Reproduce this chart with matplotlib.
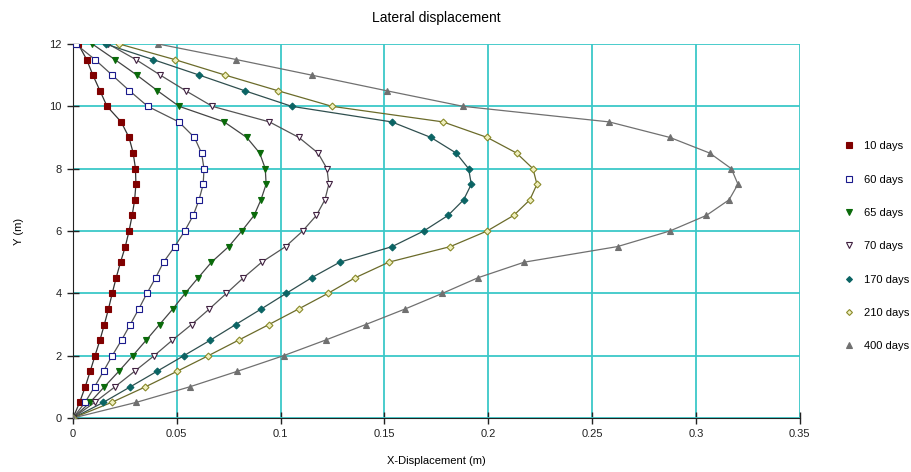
import matplotlib.pyplot as plt
import numpy as np
from matplotlib.lines import Line2D

plt.rcParams['font.family'] = ['Liberation Sans', 'DejaVu Sans']

# data: depth points (m) and lateral displacement (m) for each time
y = [0, 0.5, 1, 1.5, 2, 2.5, 3, 3.5, 4, 4.5, 5, 5.5, 6, 6.5, 7, 7.5, 8, 8.5, 9, 9.5, 10, 10.5, 11, 11.5, 12]

d10 = [0, 0.0032, 0.0059, 0.0083, 0.0106, 0.013, 0.0151, 0.0171, 0.0189, 0.0208, 0.0229, 0.0252, 0.027,
       0.0285, 0.0297, 0.0303, 0.0301, 0.029, 0.027, 0.0232, 0.0164, 0.013, 0.0096, 0.0066, 0.0025]
d60 = [0, 0.0058, 0.0104, 0.0147, 0.0189, 0.0234, 0.0276, 0.0317, 0.0356, 0.0398, 0.0436, 0.049, 0.0538,
       0.0579, 0.0607, 0.0627, 0.0631, 0.0619, 0.0585, 0.051, 0.036, 0.0272, 0.0189, 0.0106, 0.0013]
d65 = [0, 0.0082, 0.0151, 0.0221, 0.0288, 0.0353, 0.0417, 0.0481, 0.054, 0.0603, 0.0667, 0.075, 0.0813,
       0.0872, 0.0905, 0.093, 0.0926, 0.0899, 0.0837, 0.0728, 0.0511, 0.0407, 0.0308, 0.0202, 0.0093]
d70 = [0, 0.0104, 0.0202, 0.0297, 0.0391, 0.0479, 0.0571, 0.0657, 0.0739, 0.0821, 0.0909, 0.1024, 0.1106,
       0.1172, 0.1213, 0.1232, 0.1223, 0.118, 0.1088, 0.0946, 0.0671, 0.0543, 0.0421, 0.0303, 0.017]
d170 = [0, 0.0146, 0.0276, 0.0405, 0.0534, 0.0662, 0.0784, 0.0907, 0.1027, 0.1149, 0.1285, 0.1537, 0.1689,
        0.1806, 0.1881, 0.1918, 0.1905, 0.1845, 0.1724, 0.1535, 0.1053, 0.0827, 0.0609, 0.0386, 0.0157]
d210 = [0, 0.0186, 0.0349, 0.0502, 0.0652, 0.0798, 0.0944, 0.1087, 0.1228, 0.1359, 0.1521, 0.1817, 0.1994,
        0.2122, 0.22, 0.2234, 0.2215, 0.2136, 0.1995, 0.1782, 0.1247, 0.0987, 0.0734, 0.049, 0.0223]
d400 = [0, 0.0304, 0.0562, 0.0792, 0.1014, 0.1216, 0.141, 0.16, 0.1779, 0.195, 0.2173, 0.2622, 0.2874,
        0.305, 0.3159, 0.3202, 0.317, 0.3066, 0.2875, 0.2582, 0.1878, 0.151, 0.115, 0.0787, 0.041]

labels = ['10 days', '60 days', '65 days', '70 days', '170 days', '210 days', '400 days']
xticks = [0, 0.05, 0.1, 0.15, 0.2, 0.25, 0.3, 0.35]
xticklabels = ['0', '0.05', '0.1', '0.15', '0.2', '0.25', '0.3', '0.35']
yticks = [0, 2, 4, 6, 8, 10, 12]

# styles: marker, face, edge, line color
styles = [
    ('s', '#800000', '#800000', '#333333'),
    ('s', '#ffffff', '#1a1a8c', '#555555'),
    ('v', '#0a6a0a', '#0a6a0a', '#444444'),
    ('v', '#ffffff', '#402040', '#555555'),
    ('D', '#0b6464', '#0b6464', '#2f4f4f'),
    ('D', '#f0f0c0', '#8a8a2a', '#6b6b2a'),
    ('^', '#707070', '#707070', '#707070'),
]
sizes = [4.5, 4.5, 5, 5, 3.5, 3.5, 5]

fig = plt.figure(figsize=(9.11, 4.72), dpi=100)
ax = fig.add_axes([0.0801, 0.1144, 0.7979, 0.7924])

series = [d10, d60, d65, d70, d170, d210, d400]
handles = []
for d, lab, st, ms in zip(series, labels, styles, sizes):
    m, fc, ec, lc = st
    ax.plot(d, y, '-', color=lc, lw=0.9, zorder=3)
    ax.plot(d, y, linestyle='none', marker=m, markerfacecolor=fc, markeredgecolor=ec,
            markersize=ms, markeredgewidth=0.8, zorder=4)
    handles.append(Line2D([], [], linestyle='none', marker=m, markerfacecolor=fc,
                          markeredgecolor=ec, markersize=ms - 0.5, markeredgewidth=0.8, label=lab))

ax.set_xlim(0, 0.35)
ax.set_ylim(0, 12)
ax.set_xticks(xticks)
ax.set_xticklabels(xticklabels)
ax.set_yticks(yticks)
ax.grid(color='#3cc8c8', lw=1.3, zorder=1)
ax.spines['top'].set_visible(False)
ax.spines['right'].set_visible(False)
ax.spines['left'].set_color('#222222')
ax.spines['bottom'].set_color('#222222')
ax.tick_params(direction='inout', length=9, width=1, labelsize=8, colors='#222222')
ax.set_xlabel('X-Displacement (m)', fontsize=8, labelpad=12)
ax.set_ylabel('Y (m)', fontsize=8, labelpad=18)
ax.set_title('Lateral displacement', fontsize=10, pad=16)

fig.legend(handles=handles, loc='upper left', bbox_to_anchor=(0.915, 0.722), frameon=False,
           fontsize=8, labelspacing=2.1, handletextpad=0.8, handlelength=1.0)

fig.savefig('out.png', dpi=100)
